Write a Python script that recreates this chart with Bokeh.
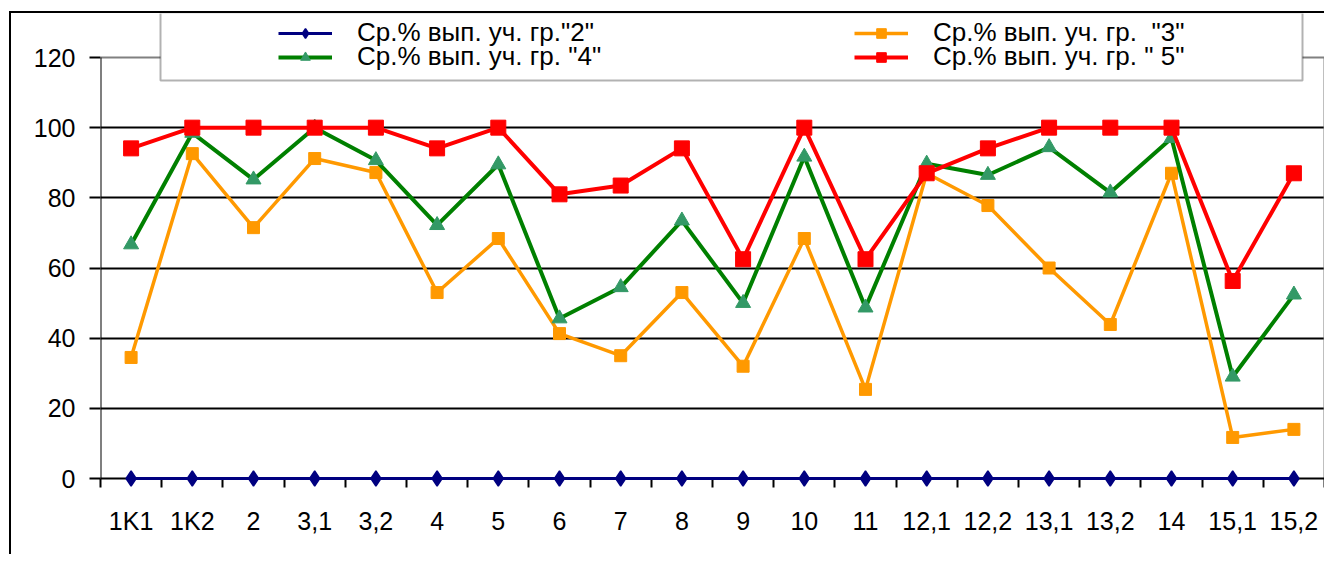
from bokeh.plotting import figure
from bokeh.models import FixedTicker, Legend, LegendItem, BoxAnnotation, ColumnDataSource, Range1d
from bokeh.embed import file_html
from bokeh.resources import INLINE

categories = ["1K1", "1K2", "2", "3,1", "3,2", "4", "5", "6", "7", "8", "9", "10",
              "11", "12,1", "12,2", "13,1", "13,2", "14", "15,1", "15,2"]
grp2 = [0, 0, 0, 0, 0, 0, 0, 0, 0, 0, 0, 0, 0, 0, 0, 0, 0, 0, 0, 0]
grp3 = [34.5, 92.6, 71.5, 91.2, 87.2, 53.0, 68.4, 41.3, 35.0, 53.0, 32.0, 68.4,
        25.4, 87.0, 77.8, 60.0, 43.9, 87.0, 11.7, 14.0]
grp4 = [66.7, 98.5, 85.2, 100.0, 90.7, 72.2, 89.5, 45.6, 54.5, 73.5, 50.0, 91.7,
        48.7, 89.7, 86.5, 94.4, 81.5, 97.0, 29.0, 52.4]
grp5 = [94.1, 100.0, 100.0, 100.0, 100.0, 94.1, 100.0, 81.0, 83.5, 94.1, 62.5, 100.0,
        62.5, 87.0, 94.1, 100.0, 100.0, 100.0, 56.3, 87.0]
labels = ['Ср.% вып. уч. гр."2"', 'Ср.% вып. уч. гр.  "3"',
          'Ср.% вып. уч. гр. "4"', 'Ср.% вып. уч. гр. " 5"']
y_ticks = [0, 20, 40, 60, 80, 100, 120]
grid_ticks = [20, 40, 60, 80, 100]

n = len(categories)
xs = list(range(n))
src = ColumnDataSource(dict(x=xs, g2=grp2, g3=grp3, g4=grp4, g5=grp5))

TICK_FONT = "'Liberation Sans Narrow', 'Arial Narrow', 'Liberation Sans', sans-serif"
LEG_FONT = "Liberation Sans"

# frame geometry (pixels) -- the area above y=120 holds the legend
FRAME_H = 465
TOP_PAD = 44          # pixels between frame top and the 120 line
y_max = y_ticks[-1]
y_end = y_max * FRAME_H / (FRAME_H - TOP_PAD)
x0, x1 = -0.5, n - 0.5

p = figure(width=1315, height=543, output_backend="svg", toolbar_location=None,
           x_range=Range1d(x0, x1), y_range=Range1d(0, y_end),
           min_border_left=89, min_border_right=2, min_border_top=0, min_border_bottom=78,
           styles={"margin-left": "9px", "margin-top": "11px",
                   "border-left": "2px solid black", "border-top": "2px solid black"})
p.outline_line_color = None
p.background_fill_color = "white"
p.border_fill_color = "white"

p.xgrid.visible = False
p.ygrid.ticker = FixedTicker(ticks=grid_ticks)
p.ygrid.grid_line_color = "black"
p.ygrid.grid_line_width = 2

# plot-area border: gray top and right, black left axis line
p.segment(x0=[x0, x1], y0=[y_max, 0], x1=[x1, x1], y1=[y_max, y_max],
          line_color="#808080", line_width=2)
p.segment(x0=[x0], y0=[0], x1=[x0], y1=[y_max], line_color="black", line_width=2)

yax = p.yaxis[0]
yax.ticker = FixedTicker(ticks=y_ticks)
yax.axis_line_color = None
yax.major_tick_line_color = "black"
yax.major_tick_line_width = 2
yax.major_tick_out = 11
yax.major_tick_in = 0
yax.minor_tick_line_color = None
yax.major_label_standoff = 14
yax.major_label_text_font = TICK_FONT
yax.major_label_text_font_size = "25px"
yax.major_label_text_color = "black"

xax = p.xaxis[0]
xax.ticker = FixedTicker(ticks=xs, minor_ticks=[i - 0.5 for i in range(n + 1)])
xax.major_label_overrides = {i: c for i, c in enumerate(categories)}
xax.axis_line_color = "black"
xax.axis_line_width = 2
xax.major_tick_out = 0
xax.major_tick_in = 0
xax.major_tick_line_color = None
xax.minor_tick_line_color = "black"
xax.minor_tick_line_width = 2
xax.minor_tick_out = 9
xax.minor_tick_in = 0
xax.major_label_standoff = 19
xax.major_label_text_font = TICK_FONT
xax.major_label_text_font_size = "25px"
xax.major_label_text_color = "black"

LVL = "overlay"
l2 = p.line("x", "g2", source=src, line_color="#000080", line_width=3, level=LVL)
m2 = p.scatter("x", "g2", source=src, marker="diamond", size=15, line_width=1.5,
               fill_color="#000080", line_color="#000080", level=LVL)
l3 = p.line("x", "g3", source=src, line_color="#FF9900", line_width=3.5, level=LVL)
m3 = p.scatter("x", "g3", source=src, marker="square", size=12, fill_color="#FF9900",
               line_color="#FF9900", level=LVL)
l4 = p.line("x", "g4", source=src, line_color="#008000", line_width=4, level=LVL)
m4 = p.scatter("x", "g4", source=src, marker="triangle", size=15, fill_color="#339966",
               line_color="#339966", level=LVL)
l5 = p.line("x", "g5", source=src, line_color="#FF0000", line_width=4, level=LVL)
m5 = p.scatter("x", "g5", source=src, marker="square", size=15, fill_color="#FF0000",
               line_color="#FF0000", level=LVL)

# legend box (screen units: from frame left, and upward from frame bottom)
lbox = BoxAnnotation(left=60, right=1202, top=FRAME_H + 1, bottom=398,
                     left_units="screen", right_units="screen", top_units="screen", bottom_units="screen",
                     fill_color="white", fill_alpha=1, line_color="black", line_width=2)
p.add_layout(lbox)

legend_style = dict(orientation="horizontal", ncols=2, padding=6, margin=0, spacing=0,
                    glyph_width=54, glyph_height=24, label_height=24, label_width=497,
                    label_standoff=25, label_text_font=LEG_FONT, label_text_font_size="26px",
                    label_text_color="black", border_line_alpha=0, background_fill_alpha=0)

legend_top = Legend(items=[LegendItem(label=labels[0], renderers=[l2, m2]),
                           LegendItem(label=labels[1], renderers=[l3, m3])],
                    location=(172, 424), **legend_style)
legend_bot = Legend(items=[LegendItem(label=labels[2], renderers=[l4, m4]),
                           LegendItem(label=labels[3], renderers=[l5, m5])],
                    location=(172, 400), **legend_style)
p.add_layout(legend_top, "center")
p.add_layout(legend_bot, "center")

open("out.html", "w").write(file_html(p, INLINE))
